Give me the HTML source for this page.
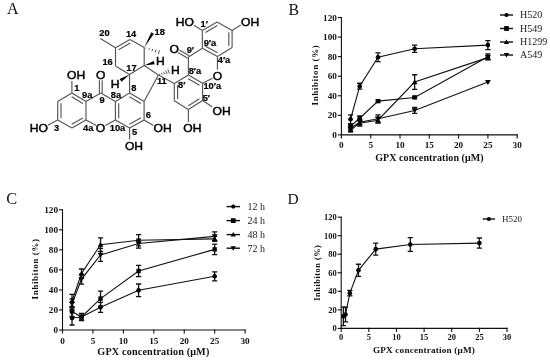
<!DOCTYPE html>
<html><head><meta charset="utf-8"><title>GPX figure</title>
<style>html,body{margin:0;padding:0;background:#fff;width:550px;height:361px;overflow:hidden;}svg{display:block;will-change:transform;}</style>
</head><body>
<svg width="550" height="361" viewBox="0 0 550 361">
<rect width="550" height="361" fill="#fff"/>
<g font-family='"Liberation Serif", serif' fill="#111">
<text x="7" y="14.4" font-size="16">A</text>
<text x="288.6" y="14.8" font-size="15.8">B</text>
<text x="6.3" y="203.6" font-size="16.4">C</text>
<text x="287.5" y="203.7" font-size="15.5">D</text>
</g>
<g stroke-linecap="butt">
<line x1="71.90" y1="93.00" x2="57.70" y2="101.50" stroke="#555" stroke-width="1.15"/>
<line x1="57.70" y1="101.50" x2="57.70" y2="119.90" stroke="#555" stroke-width="1.15"/>
<line x1="57.70" y1="119.90" x2="71.90" y2="128.00" stroke="#555" stroke-width="1.15"/>
<line x1="71.90" y1="128.00" x2="86.00" y2="119.90" stroke="#555" stroke-width="1.15"/>
<line x1="86.00" y1="119.90" x2="86.00" y2="101.50" stroke="#555" stroke-width="1.15"/>
<line x1="86.00" y1="101.50" x2="71.90" y2="93.00" stroke="#555" stroke-width="1.15"/>
<line x1="71.65" y1="96.70" x2="82.84" y2="103.45" stroke="#555" stroke-width="1.15"/>
<line x1="61.00" y1="103.20" x2="61.00" y2="118.20" stroke="#555" stroke-width="1.15"/>
<line x1="71.73" y1="124.29" x2="82.88" y2="117.89" stroke="#555" stroke-width="1.15"/>
<line x1="86.00" y1="101.50" x2="100.80" y2="93.00" stroke="#555" stroke-width="1.15"/>
<line x1="100.80" y1="93.00" x2="115.40" y2="101.50" stroke="#555" stroke-width="1.15"/>
<line x1="115.40" y1="101.50" x2="115.40" y2="119.90" stroke="#555" stroke-width="1.15"/>
<line x1="115.40" y1="119.90" x2="105.35" y2="125.48" stroke="#555" stroke-width="1.15"/>
<line x1="86.00" y1="119.90" x2="96.24" y2="125.50" stroke="#555" stroke-width="1.15"/>
<line x1="115.40" y1="101.50" x2="129.60" y2="93.00" stroke="#555" stroke-width="1.15"/>
<line x1="129.60" y1="93.00" x2="144.10" y2="101.50" stroke="#555" stroke-width="1.15"/>
<line x1="144.10" y1="101.50" x2="144.10" y2="119.90" stroke="#555" stroke-width="1.15"/>
<line x1="144.10" y1="119.90" x2="129.60" y2="128.00" stroke="#555" stroke-width="1.15"/>
<line x1="129.60" y1="128.00" x2="115.40" y2="119.90" stroke="#555" stroke-width="1.15"/>
<line x1="118.70" y1="103.20" x2="118.70" y2="118.20" stroke="#555" stroke-width="1.15"/>
<line x1="129.40" y1="96.71" x2="140.96" y2="103.49" stroke="#555" stroke-width="1.15"/>
<line x1="141.01" y1="117.85" x2="129.47" y2="124.29" stroke="#555" stroke-width="1.15"/>
<line x1="102.20" y1="93.00" x2="102.20" y2="80.30" stroke="#555" stroke-width="1.15"/>
<line x1="99.40" y1="93.00" x2="99.40" y2="80.30" stroke="#555" stroke-width="1.15"/>
<line x1="71.90" y1="93.00" x2="71.90" y2="81.00" stroke="#555" stroke-width="1.15"/>
<line x1="57.70" y1="119.90" x2="47.90" y2="125.30" stroke="#555" stroke-width="1.15"/>
<line x1="129.60" y1="128.00" x2="129.60" y2="139.40" stroke="#555" stroke-width="1.15"/>
<line x1="144.10" y1="119.90" x2="153.40" y2="125.50" stroke="#555" stroke-width="1.15"/>
<line x1="129.60" y1="93.00" x2="129.50" y2="74.40" stroke="#555" stroke-width="1.15"/>
<line x1="129.50" y1="74.40" x2="144.20" y2="65.60" stroke="#555" stroke-width="1.15"/>
<line x1="144.20" y1="65.60" x2="158.40" y2="75.10" stroke="#555" stroke-width="1.15"/>
<line x1="158.40" y1="75.10" x2="144.10" y2="101.50" stroke="#555" stroke-width="1.15"/>
<line x1="129.50" y1="74.40" x2="115.50" y2="66.00" stroke="#555" stroke-width="1.15"/>
<line x1="115.50" y1="66.00" x2="115.50" y2="47.80" stroke="#555" stroke-width="1.15"/>
<line x1="115.50" y1="47.80" x2="130.00" y2="39.40" stroke="#555" stroke-width="1.15"/>
<line x1="130.00" y1="39.40" x2="144.20" y2="47.50" stroke="#555" stroke-width="1.15"/>
<line x1="144.20" y1="47.50" x2="144.20" y2="65.60" stroke="#555" stroke-width="1.15"/>
<line x1="118.63" y1="49.80" x2="130.18" y2="43.11" stroke="#555" stroke-width="1.15"/>
<line x1="115.50" y1="47.80" x2="100.30" y2="38.60" stroke="#555" stroke-width="1.15"/>
<path d="M144.20,47.50L153.90,33.75L151.30,32.25Z" fill="#000"/>
<line x1="145.70" y1="48.47" x2="145.98" y2="47.55" stroke="#444" stroke-width="0.9"/>
<line x1="148.87" y1="49.83" x2="149.37" y2="48.23" stroke="#444" stroke-width="0.9"/>
<line x1="152.04" y1="51.20" x2="152.76" y2="48.90" stroke="#444" stroke-width="0.9"/>
<line x1="155.22" y1="52.56" x2="156.14" y2="49.58" stroke="#444" stroke-width="0.9"/>
<line x1="158.39" y1="53.92" x2="159.53" y2="50.26" stroke="#444" stroke-width="0.9"/>
<path d="M144.20,65.60L154.66,64.13L153.74,61.07Z" fill="#000"/>
<path d="M129.50,74.40L119.65,78.99L121.55,81.81Z" fill="#000"/>
<line x1="159.71" y1="75.17" x2="159.37" y2="74.21" stroke="#444" stroke-width="0.9"/>
<line x1="162.13" y1="74.75" x2="161.51" y2="72.99" stroke="#444" stroke-width="0.9"/>
<line x1="164.56" y1="74.32" x2="163.64" y2="71.78" stroke="#444" stroke-width="0.9"/>
<line x1="166.98" y1="73.90" x2="165.78" y2="70.56" stroke="#444" stroke-width="0.9"/>
<line x1="169.40" y1="73.47" x2="167.92" y2="69.35" stroke="#444" stroke-width="0.9"/>
<line x1="158.40" y1="75.10" x2="174.30" y2="83.40" stroke="#555" stroke-width="1.15"/>
<line x1="202.30" y1="30.50" x2="217.10" y2="21.90" stroke="#555" stroke-width="1.15"/>
<line x1="217.10" y1="21.90" x2="232.10" y2="30.50" stroke="#555" stroke-width="1.15"/>
<line x1="232.10" y1="30.50" x2="232.10" y2="47.60" stroke="#555" stroke-width="1.15"/>
<line x1="232.10" y1="47.60" x2="217.40" y2="56.50" stroke="#555" stroke-width="1.15"/>
<line x1="217.40" y1="56.50" x2="202.40" y2="48.20" stroke="#555" stroke-width="1.15"/>
<line x1="202.40" y1="48.20" x2="202.30" y2="30.50" stroke="#555" stroke-width="1.15"/>
<line x1="205.43" y1="32.50" x2="217.29" y2="25.61" stroke="#555" stroke-width="1.15"/>
<line x1="228.80" y1="32.20" x2="228.80" y2="45.90" stroke="#555" stroke-width="1.15"/>
<line x1="217.51" y1="52.79" x2="205.49" y2="46.14" stroke="#555" stroke-width="1.15"/>
<line x1="202.40" y1="48.20" x2="188.40" y2="57.00" stroke="#555" stroke-width="1.15"/>
<line x1="188.40" y1="57.00" x2="188.40" y2="75.00" stroke="#555" stroke-width="1.15"/>
<line x1="202.60" y1="83.30" x2="212.53" y2="78.17" stroke="#555" stroke-width="1.15"/>
<line x1="217.40" y1="56.50" x2="217.47" y2="69.60" stroke="#555" stroke-width="1.15"/>
<line x1="188.40" y1="75.00" x2="202.60" y2="83.30" stroke="#555" stroke-width="1.15"/>
<line x1="202.60" y1="83.30" x2="202.60" y2="100.60" stroke="#555" stroke-width="1.15"/>
<line x1="202.60" y1="100.60" x2="188.40" y2="109.60" stroke="#555" stroke-width="1.15"/>
<line x1="188.40" y1="109.60" x2="174.30" y2="100.70" stroke="#555" stroke-width="1.15"/>
<line x1="174.30" y1="100.70" x2="174.30" y2="83.40" stroke="#555" stroke-width="1.15"/>
<line x1="174.30" y1="83.40" x2="188.40" y2="75.00" stroke="#555" stroke-width="1.15"/>
<line x1="188.20" y1="78.71" x2="199.47" y2="85.29" stroke="#555" stroke-width="1.15"/>
<line x1="199.40" y1="98.72" x2="188.07" y2="105.90" stroke="#555" stroke-width="1.15"/>
<line x1="177.60" y1="99.00" x2="177.60" y2="85.10" stroke="#555" stroke-width="1.15"/>
<line x1="189.12" y1="55.80" x2="179.48" y2="50.06" stroke="#555" stroke-width="1.15"/>
<line x1="187.68" y1="58.20" x2="178.05" y2="52.46" stroke="#555" stroke-width="1.15"/>
<line x1="202.30" y1="30.50" x2="194.00" y2="25.30" stroke="#555" stroke-width="1.15"/>
<line x1="232.10" y1="30.50" x2="240.80" y2="25.00" stroke="#555" stroke-width="1.15"/>
<line x1="202.60" y1="100.60" x2="212.20" y2="106.80" stroke="#555" stroke-width="1.15"/>
<line x1="188.40" y1="109.60" x2="188.40" y2="122.00" stroke="#555" stroke-width="1.15"/>
<text transform="translate(76.05,78.71) scale(1.08,1)" text-anchor="middle" font-family='"Liberation Sans", sans-serif' font-size="11.2" fill="#000" stroke="#000" stroke-width="0.45">OH</text>
<text transform="translate(100.80,78.91) scale(1.08,1)" text-anchor="middle" font-family='"Liberation Sans", sans-serif' font-size="11.2" fill="#000" stroke="#000" stroke-width="0.45">O</text>
<text transform="translate(115.00,87.71) scale(1.08,1)" text-anchor="middle" font-family='"Liberation Sans", sans-serif' font-size="11.2" fill="#000" stroke="#000" stroke-width="0.45">H</text>
<text transform="translate(38.80,132.21) scale(1.08,1)" text-anchor="middle" font-family='"Liberation Sans", sans-serif' font-size="11.2" fill="#000" stroke="#000" stroke-width="0.45">HO</text>
<text transform="translate(100.50,132.41) scale(1.08,1)" text-anchor="middle" font-family='"Liberation Sans", sans-serif' font-size="11.2" fill="#000" stroke="#000" stroke-width="0.45">O</text>
<text transform="translate(134.00,150.21) scale(1.08,1)" text-anchor="middle" font-family='"Liberation Sans", sans-serif' font-size="11.2" fill="#000" stroke="#000" stroke-width="0.45">OH</text>
<text transform="translate(162.60,132.31) scale(1.08,1)" text-anchor="middle" font-family='"Liberation Sans", sans-serif' font-size="11.2" fill="#000" stroke="#000" stroke-width="0.45">OH</text>
<text transform="translate(160.30,64.81) scale(1.08,1)" text-anchor="middle" font-family='"Liberation Sans", sans-serif' font-size="11.2" fill="#000" stroke="#000" stroke-width="0.45">H</text>
<text transform="translate(175.40,74.21) scale(1.08,1)" text-anchor="middle" font-family='"Liberation Sans", sans-serif' font-size="11.2" fill="#000" stroke="#000" stroke-width="0.45">H</text>
<text transform="translate(174.30,52.61) scale(1.08,1)" text-anchor="middle" font-family='"Liberation Sans", sans-serif' font-size="11.2" fill="#000" stroke="#000" stroke-width="0.45">O</text>
<text transform="translate(184.90,25.91) scale(1.08,1)" text-anchor="middle" font-family='"Liberation Sans", sans-serif' font-size="11.2" fill="#000" stroke="#000" stroke-width="0.45">HO</text>
<text transform="translate(250.10,26.01) scale(1.08,1)" text-anchor="middle" font-family='"Liberation Sans", sans-serif' font-size="11.2" fill="#000" stroke="#000" stroke-width="0.45">OH</text>
<text transform="translate(217.50,79.61) scale(1.08,1)" text-anchor="middle" font-family='"Liberation Sans", sans-serif' font-size="11.2" fill="#000" stroke="#000" stroke-width="0.45">O</text>
<text transform="translate(221.60,114.61) scale(1.08,1)" text-anchor="middle" font-family='"Liberation Sans", sans-serif' font-size="11.2" fill="#000" stroke="#000" stroke-width="0.45">OH</text>
<text transform="translate(192.30,132.31) scale(1.08,1)" text-anchor="middle" font-family='"Liberation Sans", sans-serif' font-size="11.2" fill="#000" stroke="#000" stroke-width="0.45">OH</text>
<text transform="translate(104.40,36.48) scale(1.08,1)" text-anchor="middle" font-family='"Liberation Sans", sans-serif' font-weight="bold" font-size="8.6" fill="#000" stroke="#000" stroke-width="0.2">20</text>
<text transform="translate(131.10,36.88) scale(1.08,1)" text-anchor="middle" font-family='"Liberation Sans", sans-serif' font-weight="bold" font-size="8.6" fill="#000" stroke="#000" stroke-width="0.2">14</text>
<text transform="translate(159.70,35.28) scale(1.08,1)" text-anchor="middle" font-family='"Liberation Sans", sans-serif' font-weight="bold" font-size="8.6" fill="#000" stroke="#000" stroke-width="0.2">18</text>
<text transform="translate(107.60,65.28) scale(1.08,1)" text-anchor="middle" font-family='"Liberation Sans", sans-serif' font-weight="bold" font-size="8.6" fill="#000" stroke="#000" stroke-width="0.2">16</text>
<text transform="translate(131.40,71.18) scale(1.08,1)" text-anchor="middle" font-family='"Liberation Sans", sans-serif' font-weight="bold" font-size="8.6" fill="#000" stroke="#000" stroke-width="0.2">17</text>
<text transform="translate(76.80,91.38) scale(1.08,1)" text-anchor="middle" font-family='"Liberation Sans", sans-serif' font-weight="bold" font-size="8.6" fill="#000" stroke="#000" stroke-width="0.2">1</text>
<text transform="translate(87.20,97.98) scale(1.08,1)" text-anchor="middle" font-family='"Liberation Sans", sans-serif' font-weight="bold" font-size="8.6" fill="#000" stroke="#000" stroke-width="0.2">9a</text>
<text transform="translate(102.00,103.38) scale(1.08,1)" text-anchor="middle" font-family='"Liberation Sans", sans-serif' font-weight="bold" font-size="8.6" fill="#000" stroke="#000" stroke-width="0.2">9</text>
<text transform="translate(115.90,98.38) scale(1.08,1)" text-anchor="middle" font-family='"Liberation Sans", sans-serif' font-weight="bold" font-size="8.6" fill="#000" stroke="#000" stroke-width="0.2">8a</text>
<text transform="translate(133.90,91.08) scale(1.08,1)" text-anchor="middle" font-family='"Liberation Sans", sans-serif' font-weight="bold" font-size="8.6" fill="#000" stroke="#000" stroke-width="0.2">8</text>
<text transform="translate(161.80,84.08) scale(1.08,1)" text-anchor="middle" font-family='"Liberation Sans", sans-serif' font-weight="bold" font-size="8.6" fill="#000" stroke="#000" stroke-width="0.2">11</text>
<text transform="translate(148.40,118.08) scale(1.08,1)" text-anchor="middle" font-family='"Liberation Sans", sans-serif' font-weight="bold" font-size="8.6" fill="#000" stroke="#000" stroke-width="0.2">6</text>
<text transform="translate(134.50,134.78) scale(1.08,1)" text-anchor="middle" font-family='"Liberation Sans", sans-serif' font-weight="bold" font-size="8.6" fill="#000" stroke="#000" stroke-width="0.2">5</text>
<text transform="translate(117.50,130.58) scale(1.08,1)" text-anchor="middle" font-family='"Liberation Sans", sans-serif' font-weight="bold" font-size="8.6" fill="#000" stroke="#000" stroke-width="0.2">10a</text>
<text transform="translate(56.50,131.18) scale(1.08,1)" text-anchor="middle" font-family='"Liberation Sans", sans-serif' font-weight="bold" font-size="8.6" fill="#000" stroke="#000" stroke-width="0.2">3</text>
<text transform="translate(88.20,130.88) scale(1.08,1)" text-anchor="middle" font-family='"Liberation Sans", sans-serif' font-weight="bold" font-size="8.6" fill="#000" stroke="#000" stroke-width="0.2">4a</text>
<text transform="translate(204.30,26.58) scale(1.08,1)" text-anchor="middle" font-family='"Liberation Sans", sans-serif' font-weight="bold" font-size="8.6" fill="#000" stroke="#000" stroke-width="0.2">1&#8242;</text>
<text transform="translate(209.90,45.68) scale(1.08,1)" text-anchor="middle" font-family='"Liberation Sans", sans-serif' font-weight="bold" font-size="8.6" fill="#000" stroke="#000" stroke-width="0.2">9&#8242;a</text>
<text transform="translate(224.00,62.78) scale(1.08,1)" text-anchor="middle" font-family='"Liberation Sans", sans-serif' font-weight="bold" font-size="8.6" fill="#000" stroke="#000" stroke-width="0.2">4&#8242;a</text>
<text transform="translate(190.40,53.48) scale(1.08,1)" text-anchor="middle" font-family='"Liberation Sans", sans-serif' font-weight="bold" font-size="8.6" fill="#000" stroke="#000" stroke-width="0.2">9&#8242;</text>
<text transform="translate(194.90,73.68) scale(1.08,1)" text-anchor="middle" font-family='"Liberation Sans", sans-serif' font-weight="bold" font-size="8.6" fill="#000" stroke="#000" stroke-width="0.2">8&#8242;a</text>
<text transform="translate(181.80,88.08) scale(1.08,1)" text-anchor="middle" font-family='"Liberation Sans", sans-serif' font-weight="bold" font-size="8.6" fill="#000" stroke="#000" stroke-width="0.2">8&#8242;</text>
<text transform="translate(212.30,88.88) scale(1.08,1)" text-anchor="middle" font-family='"Liberation Sans", sans-serif' font-weight="bold" font-size="8.6" fill="#000" stroke="#000" stroke-width="0.2">10&#8242;a</text>
<text transform="translate(206.40,101.28) scale(1.08,1)" text-anchor="middle" font-family='"Liberation Sans", sans-serif' font-weight="bold" font-size="8.6" fill="#000" stroke="#000" stroke-width="0.2">5&#8242;</text>
</g>
<g stroke="#111" stroke-width="1.1" fill="none" stroke-linecap="square">
<path d="M341.4,17.50V134.9H517.2"/>
<path d="M338.4,134.90H341.4"/>
<path d="M338.4,115.33H341.4"/>
<path d="M338.4,95.77H341.4"/>
<path d="M338.4,76.20H341.4"/>
<path d="M338.4,56.63H341.4"/>
<path d="M338.4,37.07H341.4"/>
<path d="M338.4,17.50H341.4"/>
<path d="M341.40,134.9V137.9"/>
<path d="M370.70,134.9V137.9"/>
<path d="M400.00,134.9V137.9"/>
<path d="M429.30,134.9V137.9"/>
<path d="M458.60,134.9V137.9"/>
<path d="M487.90,134.9V137.9"/>
<path d="M517.20,134.9V137.9"/>
</g>
<g font-family='"Liberation Serif", serif' font-weight="bold" font-size="9.2" fill="#111">
<text x="336.9" y="138.03" text-anchor="end">0</text>
<text x="336.9" y="118.46" text-anchor="end">20</text>
<text x="336.9" y="98.89" text-anchor="end">40</text>
<text x="336.9" y="79.33" text-anchor="end">60</text>
<text x="336.9" y="59.76" text-anchor="end">80</text>
<text x="336.9" y="40.19" text-anchor="end">100</text>
<text x="336.9" y="20.63" text-anchor="end">120</text>
<text x="341.40" y="147.6" text-anchor="middle">0</text>
<text x="370.70" y="147.6" text-anchor="middle">5</text>
<text x="400.00" y="147.6" text-anchor="middle">10</text>
<text x="429.30" y="147.6" text-anchor="middle">15</text>
<text x="458.60" y="147.6" text-anchor="middle">20</text>
<text x="487.90" y="147.6" text-anchor="middle">25</text>
<text x="517.20" y="147.6" text-anchor="middle">30</text>
</g>
<text x="429.40" y="160.6" text-anchor="middle" font-family='"Liberation Serif", serif' font-weight="bold" font-size="10" fill="#111" textLength="108.5" lengthAdjust="spacing">GPX concentration (&#956;M)</text>
<text transform="translate(318.2,75.40) rotate(-90)" text-anchor="middle" font-family='"Liberation Serif", serif' font-weight="bold" font-size="8.9" fill="#111" textLength="60" lengthAdjust="spacing">Inhibiton (%)</text>
<path d="M350.56,130.01L359.71,123.16L378.02,120.23L414.65,82.07L487.90,57.61" stroke="#111" stroke-width="1.1" fill="none"/>
<path d="M350.56,128.05V131.97M347.96,128.05H353.16M347.96,131.97H353.16" stroke="#111" stroke-width="1.3" fill="none"/>
<path d="M350.56,127.13L353.43,132.16L347.68,132.16Z" fill="#000"/>
<path d="M359.71,120.23V126.09M357.11,120.23H362.31M357.11,126.09H362.31" stroke="#111" stroke-width="1.3" fill="none"/>
<path d="M359.71,120.29L362.59,125.32L356.84,125.32Z" fill="#000"/>
<path d="M378.02,117.29V123.16M375.42,117.29H380.62M375.42,123.16H380.62" stroke="#111" stroke-width="1.3" fill="none"/>
<path d="M378.02,117.35L380.90,122.38L375.15,122.38Z" fill="#000"/>
<path d="M414.65,74.73V89.41M412.05,74.73H417.25M412.05,89.41H417.25" stroke="#111" stroke-width="1.3" fill="none"/>
<path d="M414.65,79.19L417.52,84.23L411.77,84.23Z" fill="#000"/>
<path d="M487.90,55.66V59.57M485.30,55.66H490.50M485.30,59.57H490.50" stroke="#111" stroke-width="1.3" fill="none"/>
<path d="M487.90,54.74L490.77,59.77L485.02,59.77Z" fill="#000"/>
<path d="M350.56,128.05L359.71,122.18L378.02,118.76L414.65,110.44L487.90,82.07" stroke="#111" stroke-width="1.1" fill="none"/>
<path d="M350.56,126.09V130.01M347.96,126.09H353.16M347.96,130.01H353.16" stroke="#111" stroke-width="1.3" fill="none"/>
<path d="M350.56,130.93L353.43,125.90L347.68,125.90Z" fill="#000"/>
<path d="M359.71,119.25V125.12M357.11,119.25H362.31M357.11,125.12H362.31" stroke="#111" stroke-width="1.3" fill="none"/>
<path d="M359.71,125.06L362.59,120.03L356.84,120.03Z" fill="#000"/>
<path d="M378.02,114.84V122.67M375.42,114.84H380.62M375.42,122.67H380.62" stroke="#111" stroke-width="1.3" fill="none"/>
<path d="M378.02,121.63L380.90,116.60L375.15,116.60Z" fill="#000"/>
<path d="M414.65,107.51V113.38M412.05,107.51H417.25M412.05,113.38H417.25" stroke="#111" stroke-width="1.3" fill="none"/>
<path d="M414.65,113.32L417.52,108.29L411.77,108.29Z" fill="#000"/>
<path d="M487.90,84.94L490.77,79.91L485.02,79.91Z" fill="#000"/>
<path d="M350.56,126.09L359.71,118.27L378.02,101.15L414.65,97.43L487.90,56.83" stroke="#111" stroke-width="1.1" fill="none"/>
<path d="M350.56,124.14V128.05M347.96,124.14H353.16M347.96,128.05H353.16" stroke="#111" stroke-width="1.3" fill="none"/>
<rect x="348.37" y="123.91" width="4.37" height="4.37" fill="#000"/>
<path d="M359.71,115.82V120.71M357.11,115.82H362.31M357.11,120.71H362.31" stroke="#111" stroke-width="1.3" fill="none"/>
<rect x="357.53" y="116.08" width="4.37" height="4.37" fill="#000"/>
<path d="M378.02,100.17V102.13M375.42,100.17H380.62M375.42,102.13H380.62" stroke="#111" stroke-width="1.3" fill="none"/>
<rect x="375.84" y="98.96" width="4.37" height="4.37" fill="#000"/>
<path d="M414.65,96.45V98.41M412.05,96.45H417.25M412.05,98.41H417.25" stroke="#111" stroke-width="1.3" fill="none"/>
<rect x="412.46" y="95.24" width="4.37" height="4.37" fill="#000"/>
<path d="M487.90,53.89V59.76M485.30,53.89H490.50M485.30,59.76H490.50" stroke="#111" stroke-width="1.3" fill="none"/>
<rect x="485.71" y="54.64" width="4.37" height="4.37" fill="#000"/>
<path d="M350.56,119.25L359.71,86.18L378.02,57.22L414.65,48.71L487.90,45.09" stroke="#111" stroke-width="1.1" fill="none"/>
<path d="M350.56,114.84V123.65M347.96,114.84H353.16M347.96,123.65H353.16" stroke="#111" stroke-width="1.3" fill="none"/>
<circle cx="350.56" cy="119.25" r="2.30" fill="#000"/>
<path d="M359.71,83.24V89.11M357.11,83.24H362.31M357.11,89.11H362.31" stroke="#111" stroke-width="1.3" fill="none"/>
<circle cx="359.71" cy="86.18" r="2.30" fill="#000"/>
<path d="M378.02,52.82V61.62M375.42,52.82H380.62M375.42,61.62H380.62" stroke="#111" stroke-width="1.3" fill="none"/>
<circle cx="378.02" cy="57.22" r="2.30" fill="#000"/>
<path d="M414.65,45.09V52.33M412.05,45.09H417.25M412.05,52.33H417.25" stroke="#111" stroke-width="1.3" fill="none"/>
<circle cx="414.65" cy="48.71" r="2.30" fill="#000"/>
<path d="M487.90,40.59V49.59M485.30,40.59H490.50M485.30,49.59H490.50" stroke="#111" stroke-width="1.3" fill="none"/>
<circle cx="487.90" cy="45.09" r="2.30" fill="#000"/>
<g stroke="#111" stroke-width="1.1" fill="none" stroke-linecap="square">
<path d="M62.5,209.80V330.0H245.1"/>
<path d="M59.5,330.00H62.5"/>
<path d="M59.5,309.97H62.5"/>
<path d="M59.5,289.93H62.5"/>
<path d="M59.5,269.90H62.5"/>
<path d="M59.5,249.87H62.5"/>
<path d="M59.5,229.83H62.5"/>
<path d="M59.5,209.80H62.5"/>
<path d="M62.50,330.0V333.0"/>
<path d="M92.94,330.0V333.0"/>
<path d="M123.37,330.0V333.0"/>
<path d="M153.81,330.0V333.0"/>
<path d="M184.24,330.0V333.0"/>
<path d="M214.67,330.0V333.0"/>
<path d="M245.11,330.0V333.0"/>
</g>
<g font-family='"Liberation Serif", serif' font-weight="bold" font-size="9.2" fill="#111">
<text x="58.0" y="333.13" text-anchor="end">0</text>
<text x="58.0" y="313.09" text-anchor="end">20</text>
<text x="58.0" y="293.06" text-anchor="end">40</text>
<text x="58.0" y="273.03" text-anchor="end">60</text>
<text x="58.0" y="252.99" text-anchor="end">80</text>
<text x="58.0" y="232.96" text-anchor="end">100</text>
<text x="58.0" y="212.93" text-anchor="end">120</text>
<text x="62.50" y="343.6" text-anchor="middle">0</text>
<text x="92.94" y="343.6" text-anchor="middle">5</text>
<text x="123.37" y="343.6" text-anchor="middle">10</text>
<text x="153.81" y="343.6" text-anchor="middle">15</text>
<text x="184.24" y="343.6" text-anchor="middle">20</text>
<text x="214.67" y="343.6" text-anchor="middle">25</text>
<text x="245.11" y="343.6" text-anchor="middle">30</text>
</g>
<text x="153.30" y="354.9" text-anchor="middle" font-family='"Liberation Serif", serif' font-weight="bold" font-size="10.2" fill="#111" textLength="112" lengthAdjust="spacing">GPX concentration (&#956;M)</text>
<text transform="translate(38.4,269.20) rotate(-90)" text-anchor="middle" font-family='"Liberation Serif", serif' font-weight="bold" font-size="9.1" fill="#111" textLength="60.5" lengthAdjust="spacing">Inhibiton (%)</text>
<path d="M72.01,317.98L81.52,316.98L100.54,307.36L138.59,290.33L214.67,276.31" stroke="#111" stroke-width="1.1" fill="none"/>
<path d="M72.01,310.97V324.99M69.41,310.97H74.61M69.41,324.99H74.61" stroke="#111" stroke-width="1.3" fill="none"/>
<circle cx="72.01" cy="317.98" r="2.30" fill="#000"/>
<path d="M81.52,313.97V319.98M78.92,313.97H84.12M78.92,319.98H84.12" stroke="#111" stroke-width="1.3" fill="none"/>
<circle cx="81.52" cy="316.98" r="2.30" fill="#000"/>
<path d="M100.54,302.35V312.37M97.94,302.35H103.14M97.94,312.37H103.14" stroke="#111" stroke-width="1.3" fill="none"/>
<circle cx="100.54" cy="307.36" r="2.30" fill="#000"/>
<path d="M138.59,284.02V296.64M135.99,284.02H141.19M135.99,296.64H141.19" stroke="#111" stroke-width="1.3" fill="none"/>
<circle cx="138.59" cy="290.33" r="2.30" fill="#000"/>
<path d="M214.67,271.80V280.82M212.07,271.80H217.27M212.07,280.82H217.27" stroke="#111" stroke-width="1.3" fill="none"/>
<circle cx="214.67" cy="276.31" r="2.30" fill="#000"/>
<path d="M72.01,311.47L81.52,316.98L100.54,298.55L138.59,271.00L214.67,249.37" stroke="#111" stroke-width="1.1" fill="none"/>
<path d="M72.01,306.46V316.48M69.41,306.46H74.61M69.41,316.48H74.61" stroke="#111" stroke-width="1.3" fill="none"/>
<rect x="69.83" y="309.28" width="4.37" height="4.37" fill="#000"/>
<path d="M81.52,313.47V320.48M78.92,313.47H84.12M78.92,320.48H84.12" stroke="#111" stroke-width="1.3" fill="none"/>
<rect x="79.34" y="314.79" width="4.37" height="4.37" fill="#000"/>
<path d="M100.54,291.04V306.06M97.94,291.04H103.14M97.94,306.06H103.14" stroke="#111" stroke-width="1.3" fill="none"/>
<rect x="98.36" y="296.36" width="4.37" height="4.37" fill="#000"/>
<path d="M138.59,265.29V276.71M135.99,265.29H141.19M135.99,276.71H141.19" stroke="#111" stroke-width="1.3" fill="none"/>
<rect x="136.40" y="268.82" width="4.37" height="4.37" fill="#000"/>
<path d="M214.67,244.06V254.67M212.07,244.06H217.27M212.07,254.67H217.27" stroke="#111" stroke-width="1.3" fill="none"/>
<rect x="212.49" y="247.18" width="4.37" height="4.37" fill="#000"/>
<path d="M72.01,303.96L81.52,279.12L100.54,254.88L138.59,243.56L214.67,236.34" stroke="#111" stroke-width="1.1" fill="none"/>
<path d="M72.01,298.95V308.97M69.41,298.95H74.61M69.41,308.97H74.61" stroke="#111" stroke-width="1.3" fill="none"/>
<path d="M72.01,306.83L74.89,301.80L69.14,301.80Z" fill="#000"/>
<path d="M81.52,274.11V284.12M78.92,274.11H84.12M78.92,284.12H84.12" stroke="#111" stroke-width="1.3" fill="none"/>
<path d="M81.52,281.99L84.40,276.96L78.65,276.96Z" fill="#000"/>
<path d="M100.54,248.36V261.39M97.94,248.36H103.14M97.94,261.39H103.14" stroke="#111" stroke-width="1.3" fill="none"/>
<path d="M100.54,257.75L103.42,252.72L97.67,252.72Z" fill="#000"/>
<path d="M138.59,239.05V248.06M135.99,239.05H141.19M135.99,248.06H141.19" stroke="#111" stroke-width="1.3" fill="none"/>
<path d="M138.59,246.43L141.46,241.40L135.71,241.40Z" fill="#000"/>
<path d="M214.67,231.84V240.85M212.07,231.84H217.27M212.07,240.85H217.27" stroke="#111" stroke-width="1.3" fill="none"/>
<path d="M214.67,239.22L217.55,234.19L211.80,234.19Z" fill="#000"/>
<path d="M72.01,300.95L81.52,273.51L100.54,244.66L138.59,240.25L214.67,238.85" stroke="#111" stroke-width="1.1" fill="none"/>
<path d="M72.01,294.44V307.46M69.41,294.44H74.61M69.41,307.46H74.61" stroke="#111" stroke-width="1.3" fill="none"/>
<path d="M72.01,298.08L74.89,303.11L69.14,303.11Z" fill="#000"/>
<path d="M81.52,269.00V278.01M78.92,269.00H84.12M78.92,278.01H84.12" stroke="#111" stroke-width="1.3" fill="none"/>
<path d="M81.52,270.63L84.40,275.66L78.65,275.66Z" fill="#000"/>
<path d="M100.54,237.95V251.37M97.94,237.95H103.14M97.94,251.37H103.14" stroke="#111" stroke-width="1.3" fill="none"/>
<path d="M100.54,241.78L103.42,246.81L97.67,246.81Z" fill="#000"/>
<path d="M138.59,234.64V245.86M135.99,234.64H141.19M135.99,245.86H141.19" stroke="#111" stroke-width="1.3" fill="none"/>
<path d="M138.59,237.38L141.46,242.41L135.71,242.41Z" fill="#000"/>
<path d="M214.67,236.34V241.35M212.07,236.34H217.27M212.07,241.35H217.27" stroke="#111" stroke-width="1.3" fill="none"/>
<path d="M214.67,235.97L217.55,241.00L211.80,241.00Z" fill="#000"/>
<g stroke="#111" stroke-width="1.1" fill="none" stroke-linecap="square">
<path d="M341.2,217.20V328.4H507.0"/>
<path d="M338.2,328.40H341.2"/>
<path d="M338.2,309.86H341.2"/>
<path d="M338.2,291.32H341.2"/>
<path d="M338.2,272.78H341.2"/>
<path d="M338.2,254.24H341.2"/>
<path d="M338.2,235.70H341.2"/>
<path d="M338.2,217.16H341.2"/>
<path d="M341.20,328.4V331.4"/>
<path d="M368.83,328.4V331.4"/>
<path d="M396.47,328.4V331.4"/>
<path d="M424.11,328.4V331.4"/>
<path d="M451.74,328.4V331.4"/>
<path d="M479.38,328.4V331.4"/>
<path d="M507.01,328.4V331.4"/>
</g>
<g font-family='"Liberation Serif", serif' font-weight="bold" font-size="8.5" fill="#111">
<text x="336.7" y="331.29" text-anchor="end">0</text>
<text x="336.7" y="312.75" text-anchor="end">20</text>
<text x="336.7" y="294.21" text-anchor="end">40</text>
<text x="336.7" y="275.67" text-anchor="end">60</text>
<text x="336.7" y="257.13" text-anchor="end">80</text>
<text x="336.7" y="238.59" text-anchor="end">100</text>
<text x="336.7" y="220.05" text-anchor="end">120</text>
<text x="341.20" y="340" text-anchor="middle">0</text>
<text x="368.83" y="340" text-anchor="middle">5</text>
<text x="396.47" y="340" text-anchor="middle">10</text>
<text x="424.11" y="340" text-anchor="middle">15</text>
<text x="451.74" y="340" text-anchor="middle">20</text>
<text x="479.38" y="340" text-anchor="middle">25</text>
<text x="507.01" y="340" text-anchor="middle">30</text>
</g>
<text x="423.90" y="352.5" text-anchor="middle" font-family='"Liberation Serif", serif' font-weight="bold" font-size="9.2" fill="#111" textLength="102" lengthAdjust="spacing">GPX concentration (&#956;M)</text>
<text transform="translate(319.6,272.90) rotate(-90)" text-anchor="middle" font-family='"Liberation Serif", serif' font-weight="bold" font-size="8.3" fill="#111" textLength="55.5" lengthAdjust="spacing">Inhibiton (%)</text>
<path d="M343.36,316.35L345.52,314.50L349.84,293.17L358.47,270.28L375.74,249.14L410.29,244.51L479.38,243.12" stroke="#111" stroke-width="1.1" fill="none"/>
<path d="M343.36,307.08V325.62M340.76,307.08H345.96M340.76,325.62H345.96" stroke="#111" stroke-width="1.3" fill="none"/>
<circle cx="343.36" cy="316.35" r="2.30" fill="#000"/>
<path d="M345.52,307.08V321.91M342.92,307.08H348.12M342.92,321.91H348.12" stroke="#111" stroke-width="1.3" fill="none"/>
<circle cx="345.52" cy="314.50" r="2.30" fill="#000"/>
<path d="M349.84,290.39V295.95M347.24,290.39H352.44M347.24,295.95H352.44" stroke="#111" stroke-width="1.3" fill="none"/>
<circle cx="349.84" cy="293.17" r="2.30" fill="#000"/>
<path d="M358.47,264.25V276.30M355.87,264.25H361.07M355.87,276.30H361.07" stroke="#111" stroke-width="1.3" fill="none"/>
<circle cx="358.47" cy="270.28" r="2.30" fill="#000"/>
<path d="M375.74,243.12V255.17M373.14,243.12H378.34M373.14,255.17H378.34" stroke="#111" stroke-width="1.3" fill="none"/>
<circle cx="375.74" cy="249.14" r="2.30" fill="#000"/>
<path d="M410.29,237.55V251.46M407.69,237.55H412.89M407.69,251.46H412.89" stroke="#111" stroke-width="1.3" fill="none"/>
<circle cx="410.29" cy="244.51" r="2.30" fill="#000"/>
<path d="M479.38,238.02V248.21M476.77,238.02H481.98M476.77,248.21H481.98" stroke="#111" stroke-width="1.3" fill="none"/>
<circle cx="479.38" cy="243.12" r="2.30" fill="#000"/>
<path d="M500,15H513" stroke="#111" stroke-width="1.4"/>
<circle cx="506.50" cy="15.00" r="2.10" fill="#000"/>
<text x="520" y="18.40" font-family='"Liberation Serif", serif' font-size="10" fill="#1a1a1a">H520</text>
<path d="M500,28.5H513" stroke="#111" stroke-width="1.4"/>
<rect x="504.12" y="26.12" width="4.75" height="4.75" fill="#000"/>
<text x="520" y="31.90" font-family='"Liberation Serif", serif' font-size="10" fill="#1a1a1a">H549</text>
<path d="M500,42H513" stroke="#111" stroke-width="1.4"/>
<path d="M506.50,39.38L509.12,43.97L503.88,43.97Z" fill="#000"/>
<text x="520" y="45.40" font-family='"Liberation Serif", serif' font-size="10" fill="#1a1a1a">H1299</text>
<path d="M500,55H513" stroke="#111" stroke-width="1.4"/>
<path d="M506.50,57.62L509.12,53.03L503.88,53.03Z" fill="#000"/>
<text x="520" y="58.40" font-family='"Liberation Serif", serif' font-size="10" fill="#1a1a1a">A549</text>
<path d="M226.5,206.6H240" stroke="#111" stroke-width="1.4"/>
<circle cx="233.25" cy="206.60" r="2.10" fill="#000"/>
<text x="247.4" y="210.00" font-family='"Liberation Serif", serif' font-size="10" fill="#1a1a1a">12 h</text>
<path d="M226.5,220.6H240" stroke="#111" stroke-width="1.4"/>
<rect x="230.88" y="218.22" width="4.75" height="4.75" fill="#000"/>
<text x="247.4" y="224.00" font-family='"Liberation Serif", serif' font-size="10" fill="#1a1a1a">24 h</text>
<path d="M226.5,234.6H240" stroke="#111" stroke-width="1.4"/>
<path d="M233.25,231.97L235.88,236.57L230.62,236.57Z" fill="#000"/>
<text x="247.4" y="238.00" font-family='"Liberation Serif", serif' font-size="10" fill="#1a1a1a">48 h</text>
<path d="M226.5,248.2H240" stroke="#111" stroke-width="1.4"/>
<path d="M233.25,250.82L235.88,246.23L230.62,246.23Z" fill="#000"/>
<text x="247.4" y="251.60" font-family='"Liberation Serif", serif' font-size="10" fill="#1a1a1a">72 h</text>
<path d="M482.7,219H495" stroke="#111" stroke-width="1.4"/>
<circle cx="488.85" cy="219.00" r="2.10" fill="#000"/>
<text x="502" y="222.06" font-family='"Liberation Serif", serif' font-size="9" fill="#1a1a1a">H520</text>
</svg>
</body></html>
